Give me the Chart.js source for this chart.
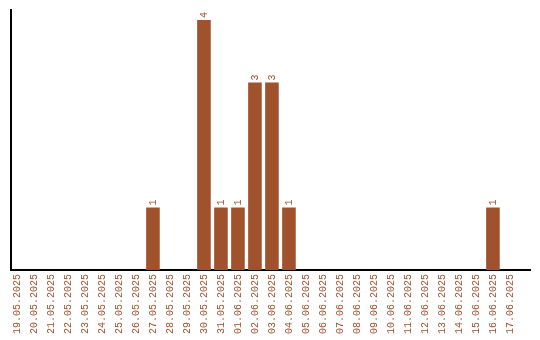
<!DOCTYPE html>
<html>
<head>
<meta charset="utf-8">
<script src="https://cdn.jsdelivr.net/npm/chart.js@4"></script>
<style>
  html, body { margin: 0; padding: 0; background: #fff; }
  #wrap { width: 540px; height: 340px; }
</style>
</head>
<body>
<div id="wrap"><canvas id="barChart" width="540" height="340"></canvas></div>
<script>
const days = [
    '19.05.2025', '20.05.2025', '21.05.2025', '22.05.2025', '23.05.2025',
    '24.05.2025', '25.05.2025', '26.05.2025', '27.05.2025', '28.05.2025',
    '29.05.2025', '30.05.2025', '31.05.2025', '01.06.2025', '02.06.2025',
    '03.06.2025', '04.06.2025', '05.06.2025', '06.06.2025', '07.06.2025',
    '08.06.2025', '09.06.2025', '10.06.2025', '11.06.2025', '12.06.2025',
    '13.06.2025', '14.06.2025', '15.06.2025', '16.06.2025', '17.06.2025'
];
const counts = [
    0, 0, 0, 0, 0, 0, 0, 0, 1, 0,
    0, 4, 1, 1, 3, 3, 1, 0, 0, 0,
    0, 0, 0, 0, 0, 0, 0, 0, 1, 0
];
const barColor = '#a0522d';
const monoFont = { family: '"Liberation Mono", monospace', size: 10 };

// value labels above the bars, turned like the dates
const valueLabels = {
    id: 'valueLabels',
    afterDatasetsDraw(chart) {
        const ctx = chart.ctx;
        const meta = chart.getDatasetMeta(0);
        ctx.save();
        ctx.fillStyle = barColor;
        ctx.font = '10px "Liberation Mono", monospace';
        ctx.textAlign = 'left';
        ctx.textBaseline = 'middle';
        meta.data.forEach((bar, i) => {
            const v = counts[i];
            if (!v) return;
            ctx.save();
            ctx.translate(bar.x, bar.y - 2);
            ctx.rotate(-Math.PI / 2);
            ctx.fillText(String(v), 0, 0);
            ctx.restore();
        });
        ctx.restore();
    }
};

const bar_ctx = document.getElementById('barChart').getContext('2d');
const barChart = new Chart(bar_ctx, {
    type: 'bar',
    data: {
        labels: days,
        datasets: [{
            data: counts,
            backgroundColor: barColor,
            categoryPercentage: 1,
            barPercentage: 0.8
        }]
    },
    options: {
        responsive: false,
        animation: false,
        layout: { padding: { left: 10, right: 10, top: 10, bottom: 0 } },
        plugins: {
            legend: { display: false },
            tooltip: { enabled: false }
        },
        scales: {
            x: {
                grid: { display: false, drawTicks: false },
                border: { color: '#000', width: 2 },
                ticks: {
                    color: barColor,
                    font: monoFont,
                    maxRotation: 90,
                    minRotation: 90,
                    autoSkip: false,
                    padding: 4
                },
                afterFit(scale) { scale.height = 70; },
                // leave some empty room at the right end of the axis
                afterBuildTicks(scale) {
                    scale._startValue = -0.35;
                    scale._valueRange = 30.53;
                }
            },
            y: {
                min: 0,
                max: 4.16,
                grid: { display: false, drawTicks: false },
                border: { color: '#000', width: 2 },
                ticks: { display: false },
                afterFit(scale) { scale.width = 1; }
            }
        }
    },
    plugins: [valueLabels]
});
</script>
</body>
</html>
